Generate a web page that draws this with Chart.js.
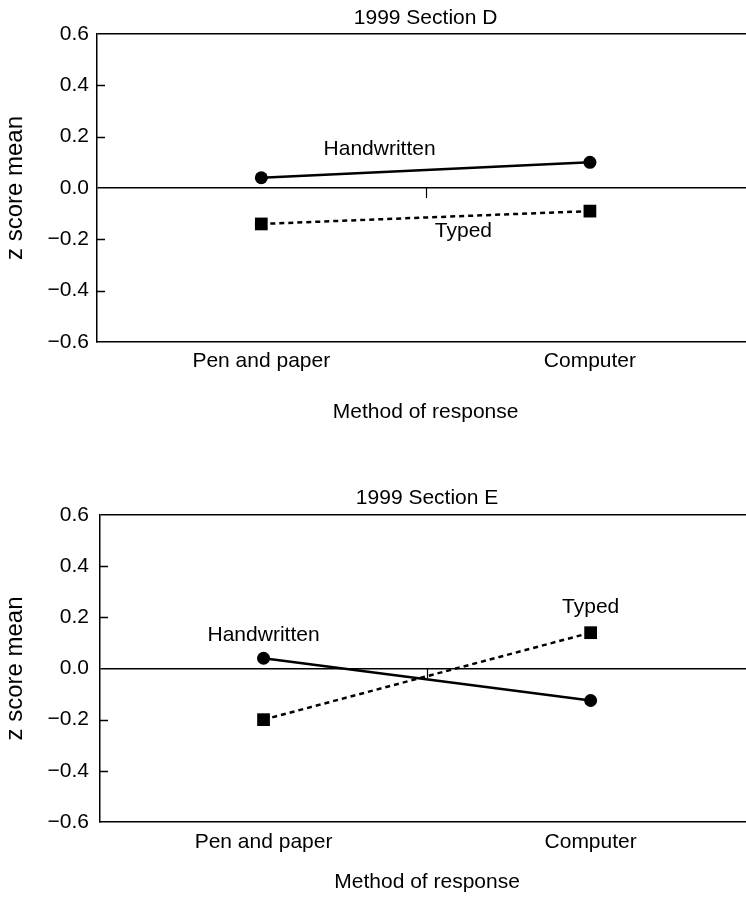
<!DOCTYPE html>
<html><head><meta charset="utf-8">
<script src="https://cdn.jsdelivr.net/npm/chart.js@4.4.0/dist/chart.umd.min.js"></script>
<style>
html,body{margin:0;padding:0;overflow:hidden;background:#fff;}
#w1{position:absolute;left:0;top:0;width:746px;height:440px;}
#w2{position:absolute;left:0;top:440px;width:746px;height:457px;}
</style></head><body>
<div id="w1"><canvas id="c1"></canvas></div>
<div id="w2"><canvas id="c2"></canvas></div>
<script>
// ---- data ----
const categories = ['Pen and paper', 'Computer'];
const yTicks = [-0.6, -0.4, -0.2, 0, 0.2, 0.4, 0.6];
const xTitle = 'Method of response';
const yTitle = 'z score mean';

const titleD = '1999 Section D';
const handwrittenD = [0.04, 0.10];
const typedD = [-0.14, -0.09];
const labelsD = [
  {text: 'Handwritten', x: 0.36, y: 0.15},
  {text: 'Typed', x: 0.615, y: -0.17}
];

const titleE = '1999 Section E';
const handwrittenE = [0.04, -0.125];
const typedE = [-0.20, 0.14];
const labelsE = [
  {text: 'Handwritten', x: 0.0, y: 0.13},
  {text: 'Typed', x: 1.0, y: 0.24}
];

// ---- drawing ----
const FONT = '"Liberation Sans", Arial, Helvetica, sans-serif';
const INK = '#000';

function makeChart(id, title, hw, ty, labels, g) {
  const decor = {
    id: 'decor',
    afterDraw(chart) {
      const ctx = chart.ctx, xs = chart.scales.x, ys = chart.scales.y, ca = chart.chartArea;
      ctx.save();
      ctx.strokeStyle = INK; ctx.lineWidth = 1.5;
      // inward y ticks
      yTicks.forEach(v => {
        if (Math.abs(v) > 0.5 || v === 0) return;
        const py = Math.round(ys.getPixelForValue(v)) + 0.5;
        ctx.beginPath(); ctx.moveTo(ca.left, py); ctx.lineTo(ca.left + 8, py); ctx.stroke();
      });
      // category boundary tick on zero line
      const mid = xs.getPixelForValue(0.5);
      const mx = Math.round(mid) + 0.5;
      const y0 = ys.getPixelForValue(0);
      ctx.lineWidth = 1.2;
      ctx.beginPath(); ctx.moveTo(mx, y0); ctx.lineTo(mx, y0 + 10); ctx.stroke();
      // title and x-axis title, centred on the category span
      ctx.fillStyle = INK;
      ctx.font = '21px ' + FONT;
      ctx.textAlign = 'center'; ctx.textBaseline = 'middle';
      ctx.fillText(title, mid, g.titleY);
      ctx.fillText(xTitle, mid, g.xTitleY);
      // series labels
      labels.forEach(l => ctx.fillText(l.text, xs.getPixelForValue(l.x), ys.getPixelForValue(l.y)));
      ctx.restore();
    }
  };
  return new Chart(document.getElementById(id), {
    type: 'line',
    data: {
      datasets: [
        {
          label: 'Handwritten',
          data: hw.map((v, i) => ({x: i, y: v})),
          borderColor: INK, backgroundColor: INK, borderWidth: 2.5,
          pointStyle: 'circle', pointRadius: 6.5, pointBorderWidth: 0,
          pointBackgroundColor: INK, fill: false, tension: 0
        },
        {
          label: 'Typed',
          data: ty.map((v, i) => ({x: i, y: v})),
          borderColor: INK, backgroundColor: INK, borderWidth: 2.5, borderDash: [5, 4],
          pointStyle: 'rect', pointRadius: 9, pointBorderWidth: 0,
          pointBackgroundColor: INK, fill: false, tension: 0
        }
      ]
    },
    options: {
      responsive: true,
      maintainAspectRatio: false,
      animation: false,
      devicePixelRatio: 1,
      layout: {autoPadding: false, padding: {top: g.padTop, left: 0, right: 0, bottom: 0}},
      plugins: {legend: {display: false}, tooltip: {enabled: false}, title: {display: false}},
      scales: {
        x: {
          type: 'linear', min: -0.5, max: 1.475,
          afterBuildTicks: s => { s.ticks = categories.map((c, i) => ({value: i})); },
          afterFit: s => { s.height = g.xHeight; },
          grid: {color: 'rgba(0,0,0,0)', drawTicks: false},
          border: {display: true, color: INK, width: 1.5},
          ticks: {
            autoSkip: false, maxRotation: 0, padding: g.xTickPad, color: INK,
            font: {family: FONT, size: 21, lineHeight: 1.2},
            callback: v => categories[v] !== undefined ? categories[v] : ''
          },
          title: {display: false}
        },
        y: {
          type: 'linear', min: -0.6, max: 0.6,
          afterBuildTicks: s => { s.ticks = yTicks.map(v => ({value: v})); },
          afterFit: s => { s.width = g.yWidth; },
          grid: {
            drawTicks: false, lineWidth: 1.5,
            color: c => (c.tick && (Math.abs(c.tick.value) < 1e-9 || Math.abs(c.tick.value - 0.6) < 1e-9)) ? INK : 'rgba(0,0,0,0)'
          },
          border: {display: true, color: INK, width: 1.5},
          ticks: {
            padding: g.yTickPad, color: INK,
            font: {family: FONT, size: 21, lineHeight: 1.2},
            callback: v => (v < -1e-9 ? '\u2212' : '') + Math.abs(v).toFixed(1)
          },
          title: {
            display: true, text: yTitle, color: INK,
            font: {family: FONT, size: 24, lineHeight: 1.2},
            padding: {top: 1, bottom: 0}
          }
        }
      }
    },
    plugins: [decor]
  });
}

makeChart('c1', titleD, handwrittenD, typedD, labelsD,
  {padTop: 34, yWidth: 97, yTickPad: 8, xHeight: 98, xTickPad: 6.4, xTitleY: 412, titleY: 18});
makeChart('c2', titleE, handwrittenE, typedE, labelsE,
  {padTop: 75, yWidth: 100, yTickPad: 11, xHeight: 75, xTickPad: 7.9, xTitleY: 442.5, titleY: 58.5});
</script>
</body></html>
